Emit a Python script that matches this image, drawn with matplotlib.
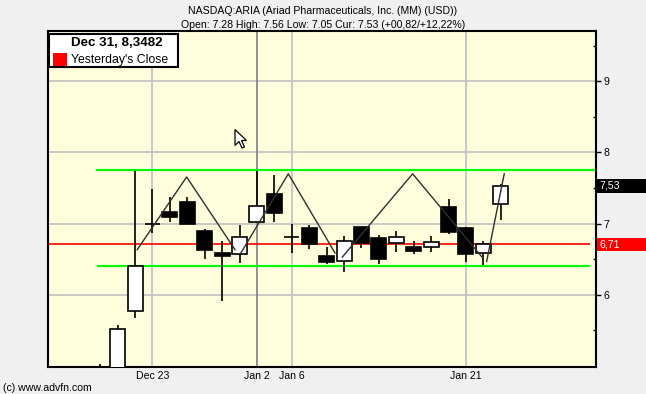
import matplotlib
matplotlib.use('Agg')
import numpy as np
import matplotlib.pyplot as plt
from matplotlib.patches import Rectangle, Polygon
from matplotlib.transforms import Affine2D, blended_transform_factory

plt.rcParams['font.family'] = ['Liberation Sans', 'DejaVu Sans']

# ---------------- data ----------------
dates = ['Dec 18', 'Dec 19', 'Dec 20', 'Dec 23', 'Dec 24', 'Dec 26', 'Dec 27', 'Dec 30',
         'Dec 31', 'Jan 2', 'Jan 3', 'Jan 6', 'Jan 7', 'Jan 8', 'Jan 9', 'Jan 10',
         'Jan 13', 'Jan 14', 'Jan 15', 'Jan 16', 'Jan 17', 'Jan 21', 'Jan 22', 'Jan 23']
opens  = [4.80, 4.90, 5.78, 7.00, 7.17, 7.31, 6.90, 6.59, 6.575, 7.025, 7.41, 6.81,
          6.94, 6.545, 6.48, 6.955, 6.80, 6.73, 6.67, 6.67, 7.235, 6.94, 6.59, 7.28]
highs  = [5.03, 5.58, 7.745, 7.48, 7.37, 7.37, 6.93, 6.75, 6.985, 7.745, 7.69, 7.00,
          6.985, 6.67, 6.83, 6.96, 6.845, 6.90, 6.75, 6.83, 7.35, 6.95, 6.76, 7.56]
lows   = [4.70, 4.85, 5.67, 6.87, 7.02, 6.99, 6.50, 5.91, 6.45, 7.02, 7.02, 6.59,
          6.645, 6.44, 6.32, 6.66, 6.43, 6.60, 6.575, 6.60, 6.86, 6.455, 6.415, 7.05]
closes = [4.95, 5.52, 6.40, 7.00, 7.10, 7.00, 6.625, 6.54, 6.81, 7.255, 7.15, 6.81,
          6.715, 6.46, 6.755, 6.73, 6.51, 6.81, 6.61, 6.74, 6.89, 6.575, 6.715, 7.53]

tick_labels = ['Dec 23', 'Jan 2', 'Jan 6', 'Jan 21']
y_ticks = [6, 7, 8, 9]
y_minor = [5.5, 6.5, 7.5, 8.5, 9.5]

yesterday_close = 6.71
current = 7.53
channel_top = 7.755
channel_bottom = 6.405

# pattern zig-zag (trading-day index, price); NaN separates pieces
zig_x = [2.125, 4.96, 7.74, np.nan, 8.08, 10.8, 13.48, np.nan, 13.9, 17.94, 21.96, np.nan, 22.19, 23.2]
zig_y = [6.635, 7.656, 6.635, np.nan, 6.59, 7.70, 6.59, np.nan, 6.53, 7.70, 6.52, np.nan, 6.47, 7.70]

title1 = 'NASDAQ:ARIA (Ariad Pharmaceuticals, Inc. (MM) (USD))'
title2 = 'Open: 7.28 High: 7.56 Low: 7.05 Cur: 7.53 (+00,82/+12,22%)'

# ---------------- figure ----------------
W, H = 646, 394
fig = plt.figure(figsize=(W / 100, H / 100), dpi=100, facecolor='#f0f0f0')
L, R, T, B = 48, 596, 31, 367
ax = fig.add_axes([L / W, 1 - B / H, (R - L) / W, (B - T) / H])
ax.set_facecolor('#fefedc')
ax.set_xlim(-3.0, 28.47)
ax.set_ylim(4.987, 9.706)

pix = Affine2D().scale(1 / W, -1 / H).translate(0, 1) + fig.transFigure

x = np.arange(len(dates))
pos = {d: i for i, d in enumerate(dates)}
tick_pos = [pos[t] for t in tick_labels]

# grid
for t in y_ticks:
    ax.axhline(t, color='#c0c0c0', lw=1.2, zorder=0.5)
for t, lab in zip(tick_pos, tick_labels):
    ax.axvline(t, color='#808080' if lab == 'Jan 2' else '#c0c0c0', lw=1.2, zorder=0.5)

# horizontal reference lines
ax.hlines(channel_top, -0.25, 28.47, color='#00ff00', lw=1.5, zorder=1)
ax.hlines(channel_bottom, -0.19, 28.1, color='#00ff00', lw=1.5, zorder=1)
ax.hlines(yesterday_close, -3.0, 28.1, color='#ff0000', lw=1.2, zorder=1)

# candles
o = np.array(opens); c = np.array(closes); h = np.array(highs); l = np.array(lows)
ax.vlines(x, l, h, color='black', lw=1.2, zorder=2)
up = c >= o
ax.bar(x[up], c[up] - o[up], bottom=o[up], width=0.86, color='white',
       edgecolor='black', linewidth=1.2, zorder=3)
ax.bar(x[~up], c[~up] - o[~up], bottom=o[~up], width=0.86, color='black',
       edgecolor='black', linewidth=1.2, zorder=3)

# zig-zag pattern
ax.plot(zig_x, zig_y, color='#303030', lw=1.0, zorder=4)

# axes styling
for s in ax.spines.values():
    s.set_linewidth(1.5)
    s.set_color('black')
ax.yaxis.tick_right()
ax.set_yticks(y_ticks)
ax.set_yticklabels([str(t) for t in y_ticks])
ax.set_yticks(y_minor, minor=True)
ax.tick_params(axis='y', which='major', direction='out', length=3.5, width=1, pad=2,
               labelsize=7.6, colors='black')
ax.tick_params(axis='y', which='minor', direction='in', length=2.5, width=1)
ax.set_xticks(tick_pos)
ax.set_xticklabels(tick_labels)
ax.tick_params(axis='x', which='major', length=0, pad=3, labelsize=7.6)

# value boxes on the right axis
bt = blended_transform_factory(fig.transFigure, ax.transData)
bh = 13.5 / 71.2
for val, col, txt in [(current, 'black', '7,53'), (yesterday_close, '#ff0000', '6,71')]:
    fig.add_artist(Rectangle((597 / W, val - bh / 2), 49 / W, bh, transform=bt,
                             facecolor=col, edgecolor='none', clip_on=False, zorder=5))
    fig.text(599 / W, val, txt, transform=bt, color='white', fontsize=7.6,
             va='center', ha='left', zorder=6)

# titles
fig.text(323, 11, title1, transform=pix, ha='center', va='center', fontsize=7.6)
fig.text(323, 25, title2, transform=pix, ha='center', va='center', fontsize=7.6)
fig.text(3, 388, '(c) www.advfn.com', transform=pix, ha='left', va='center', fontsize=7.6)

# legend box
fig.add_artist(Rectangle((49, 67), 129, -33.5, transform=pix, facecolor='white',
                         edgecolor='black', lw=1.5, zorder=7))
fig.add_artist(Rectangle((53, 65.5), 14, -12.5, transform=pix, facecolor='#ff0000',
                         edgecolor='none', zorder=8))
fig.text(117, 43, 'Dec 31, 8,3482', transform=pix, ha='center', va='center',
         fontsize=9.6, fontweight='bold', zorder=8)
fig.text(71, 59.5, "Yesterday's Close", transform=pix, ha='left', va='center',
         fontsize=8.8, zorder=8)

# mouse pointer seen in the screenshot
cur = np.array([(0, 0), (0, 16), (4, 12), (7, 18.5), (9.5, 17.5), (6.5, 11), (11.5, 11)])
cur = cur + np.array([235, 129.5])
fig.add_artist(Polygon(cur, closed=True, transform=pix, facecolor='white',
                       edgecolor='black', lw=0.9, zorder=9))

fig.savefig('out.png', dpi=100, facecolor=fig.get_facecolor())
